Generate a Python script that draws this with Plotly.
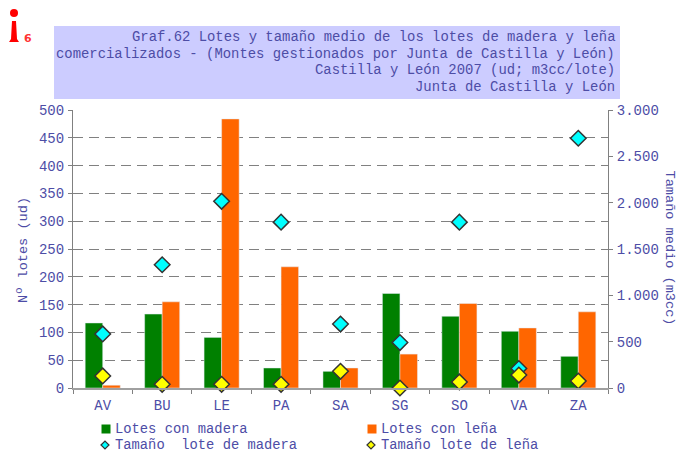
import plotly.graph_objects as go

provincias = ["AV", "BU", "LE", "PA", "SA", "SG", "SO", "VA", "ZA"]
lotes_madera = [117, 133, 91, 36, 30, 170, 129, 102, 57]
lotes_lena = [5, 155, 484, 218, 36, 61, 152, 108, 137]
tamano_madera = [583, 1330, 2015, 1790, 690, 490, 1790, 210, 2695]
tamano_lena = [130, 40, 40, 40, 180, 0, 65, 140, 75]
titulo = ["Graf.62 Lotes y tamaño medio de los lotes de madera y leña",
          "comercializados - (Montes gestionados por Junta de Castilla y León)",
          "Castilla y León 2007 (ud; m3cc/lote)",
          "Junta de Castilla y León"]
leyenda = ["Lotes con madera", "Lotes con leña", "Tamaño  lote de madera", "Tamaño lote de leña"]

FONT = "Liberation Mono"
TXT = "#4d4da6"
GRAY = "#808080"
W, H = 677, 452
L, R, T, B = 73, 608, 110, 388

def px(x): return (x - L) / (R - L)
def py(y): return (B - y) / (B - T)

fig = go.Figure()
fig.add_bar(x=provincias, y=lotes_madera, name=leyenda[0], marker_color="#008000", yaxis="y")
fig.add_bar(x=provincias, y=lotes_lena, name=leyenda[1], marker_color="#ff6600", yaxis="y")
mk = dict(symbol="diamond", size=12, line=dict(color="#333333", width=1.5))
fig.add_scatter(x=provincias, y=tamano_madera, name=leyenda[2], mode="markers",
                marker=dict(color="#00ffff", **mk), yaxis="y2", cliponaxis=False)
fig.add_scatter(x=provincias, y=tamano_lena, name=leyenda[3], mode="markers",
                marker=dict(color="#ffff00", **mk), yaxis="y2", cliponaxis=False)

fig.update_layout(
    width=W, height=H, autosize=False,
    margin=dict(l=L, r=W - R, t=T, b=H - B, pad=0),
    paper_bgcolor="white", plot_bgcolor="white",
    font=dict(family=FONT, size=14, color=TXT),
    separators=",.", showlegend=False,
    barmode="group", bargap=0.41, bargroupgap=0,
    xaxis=dict(type="category", range=[-0.5, 8.5], showline=True, linecolor="#a0a0a0", linewidth=2,
               ticks="outside", tickson="boundaries", ticklen=4, tickcolor=GRAY, showgrid=False,
               automargin=False, tickfont=dict(size=14, color=TXT), ticklabelstandoff=3),
    yaxis=dict(range=[0, 500], dtick=50, showline=True, linecolor=GRAY, linewidth=1,
               ticks="outside", ticklen=4, tickcolor=GRAY, showgrid=True, gridcolor=GRAY,
               griddash="10px,6px", gridwidth=1, zeroline=False, automargin=False,
               tickfont=dict(size=14, color=TXT), ticklabelstandoff=1),
    yaxis2=dict(range=[0, 3000], dtick=500, overlaying="y", side="right", showline=True,
                linecolor=GRAY, linewidth=1, ticks="outside", ticklen=4, tickcolor=GRAY,
                showgrid=False, zeroline=False, tickformat=",d", automargin=False,
                tickfont=dict(size=14, color=TXT), ticklabelstandoff=1),
)

# axis titles
fig.add_annotation(xref="paper", yref="paper", x=px(23), y=py(250), xanchor="center", yanchor="middle",
                   textangle=-90, showarrow=False,
                   text="Nº lotes (ud)", font=dict(size=13.6, color=TXT, family=FONT))
fig.add_annotation(xref="paper", yref="paper", x=px(669), y=py(247.5), xanchor="center", yanchor="middle",
                   textangle=90, showarrow=False,
                   text="Tamaño medio (m3cc)", font=dict(size=13.6, color=TXT, family=FONT))

# title box
fig.add_shape(type="rect", xref="paper", yref="paper", x0=px(54), x1=px(620), y0=py(99), y1=py(26),
              fillcolor="#ccccff", line_width=0, layer="below")
for i, linea in enumerate(titulo):
    fig.add_annotation(xref="paper", yref="paper", x=px(617), y=py(37 + i * 16.6),
                       xanchor="right", yanchor="middle", showarrow=False, text=linea,
                       font=dict(size=13.9, color=TXT, family=FONT))

# logo
fig.add_shape(type="circle", xref="paper", yref="paper", x0=px(10), x1=px(18), y0=py(9), y1=py(17),
              fillcolor="#ff0000", line_width=0)
fig.add_shape(type="path", xref="paper", yref="paper", line_width=0, fillcolor="#ff0000",
              path=f"M {px(12)} {py(21)} L {px(16)} {py(21)} L {px(17)} {py(39)} L {px(19)} {py(42)} "
                   f"L {px(9)} {py(42)} L {px(11)} {py(39)} Z")
fig.add_annotation(xref="paper", yref="paper", x=px(28), y=py(38), xanchor="center", yanchor="middle",
                   showarrow=False, text="<b>6</b>", font=dict(size=11, color="#ff3333", family="DejaVu Sans"))

# legend
for nombre, tx, ty, sx, kind in [
    (leyenda[0], 113, 429, 106, "#008000"),
    (leyenda[1], 379, 429, 372, "#ff6600"),
    (leyenda[2], 113, 445, 105, "#00ffff"),
    (leyenda[3], 379, 445, 371, "#ffff00"),
]:
    fig.add_annotation(xref="paper", yref="paper", x=px(tx), y=py(ty), xanchor="left", yanchor="middle",
                       showarrow=False, text=nombre, font=dict(size=13.8, color=TXT, family=FONT))
    if ty == 429:
        fig.add_shape(type="rect", xref="paper", yref="paper", x0=px(sx - 4.5), x1=px(sx + 4.5),
                      y0=py(ty + 4.5), y1=py(ty - 4.5), fillcolor=kind, line_width=0)
    else:
        fig.add_shape(type="path", xref="paper", yref="paper", fillcolor=kind,
                      line=dict(color="#333333", width=1.2),
                      path=f"M {px(sx - 4)} {py(ty)} L {px(sx)} {py(ty - 4)} L {px(sx + 4)} {py(ty)} L {px(sx)} {py(ty + 4)} Z")

fig.write_html("out.html", config={"displayModeBar": False},
               post_script="document.body.style.margin='0';document.documentElement.style.overflow='hidden';")
